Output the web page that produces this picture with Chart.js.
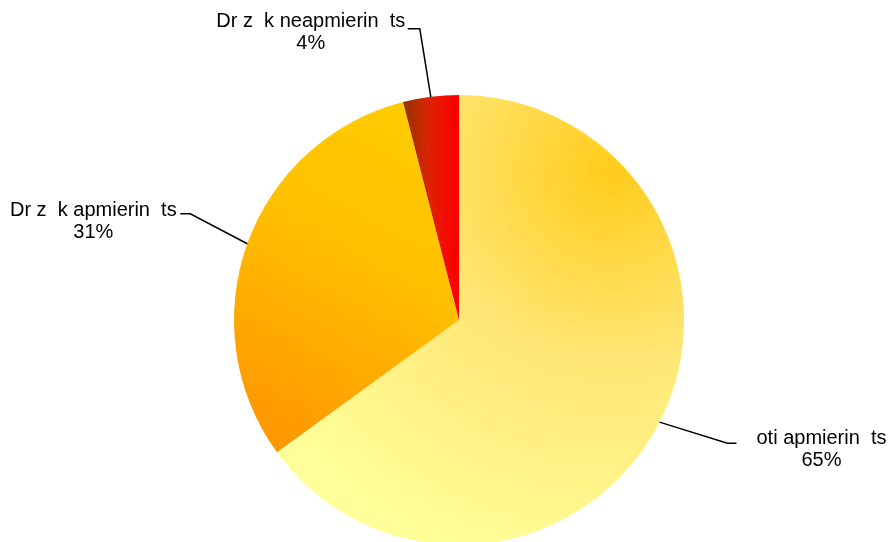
<!DOCTYPE html>
<html lang="lv">
<head>
    <meta charset="UTF-8">
    <title>Apmierinātība</title>
    <script src="https://cdn.jsdelivr.net/npm/chart.js"></script>
    <style>
        html, body { margin: 0; padding: 0; background: #fff; overflow: hidden; }
        .wrap { position: relative; width: 889px; height: 545px; }
    </style>
</head>
<body>
    <div class="wrap">
        <canvas id="pieChart"></canvas>
    </div>

    <script>
        // dati
        const categories = ['oti apmierin  ts', 'Dr z  k apmierin  ts', 'Dr z  k neapmierin  ts'];
        const shares = [65, 31, 4];

        // gradient fills, built from the chart area once layout is known
        function sliceFill(ctx) {
            const chart = ctx.chart;
            const a = chart.chartArea;
            const fallback = ['#ffe066', '#ffb300', '#cc1100'][ctx.dataIndex];
            if (!a) return fallback;
            const c = chart.ctx;
            const cx = (a.left + a.right) / 2;
            const cy = (a.top + a.bottom) / 2;
            const r = Math.min(a.right - a.left, a.bottom - a.top) / 2;
            let g;
            if (ctx.dataIndex === 0) {
                g = c.createRadialGradient(cx + r * 0.68, cy - r * 0.66, 0, cx + r * 0.68, cy - r * 0.66, r * 1.85);
                g.addColorStop(0, '#ffcc1a');
                g.addColorStop(0.45, '#ffe674');
                g.addColorStop(1, '#ffff99');
            } else if (ctx.dataIndex === 1) {
                g = c.createLinearGradient(cx - r * 0.1, cy - r * 0.9, cx - r * 0.85, cy + r * 0.45);
                g.addColorStop(0, '#ffcc00');
                g.addColorStop(0.45, '#ffc000');
                g.addColorStop(1, '#ff9900');
            } else {
                g = c.createLinearGradient(cx - r * 0.24, 0, cx - r * 0.02, 0);
                g.addColorStop(0, '#993300');
                g.addColorStop(0.5, '#dd2200');
                g.addColorStop(1, '#ff0000');
            }
            return g;
        }

        // leader lines and two-line labels
        const leaderLabels = {
            id: 'leaderLabels',
            afterDatasetsDraw(chart, args, opts) {
                const c = chart.ctx;
                const meta = chart.getDatasetMeta(0);
                const total = shares.reduce((s, v) => s + v, 0);
                c.save();
                c.strokeStyle = '#000';
                c.lineWidth = 1.5;
                c.fillStyle = '#000';
                c.font = '20px "Liberation Sans", Arial, sans-serif';
                c.textAlign = 'center';
                c.textBaseline = 'middle';
                meta.data.forEach((arc, i) => {
                    const p = arc.getProps(['x', 'y', 'startAngle', 'endAngle', 'outerRadius'], true);
                    const mid = (p.startAngle + p.endAngle) / 2;
                    const sx = p.x + Math.cos(mid) * p.outerRadius;
                    const sy = p.y + Math.sin(mid) * p.outerRadius;
                    const o = opts.offsets[i];
                    c.beginPath();
                    c.moveTo(sx, sy);
                    c.lineTo(sx + o.ex, sy + o.ey);
                    c.lineTo(sx + o.hx, sy + o.ey);
                    c.stroke();
                    const pct = Math.round(shares[i] / total * 100) + '%';
                    c.fillText(categories[i], sx + o.tx, sy + o.ty);
                    c.fillText(pct, sx + o.tx, sy + o.ty + 22);
                });
                c.restore();
            }
        };

        const ctx = document.getElementById('pieChart').getContext('2d');
        new Chart(ctx, {
            type: 'pie',
            data: {
                labels: categories,
                datasets: [{
                    data: shares,
                    backgroundColor: sliceFill,
                    borderWidth: 0
                }]
            },
            options: {
                responsive: true,
                maintainAspectRatio: false,
                animation: false,
                events: [],
                layout: { padding: { top: 95, bottom: 0, left: 234, right: 205 } },
                plugins: {
                    legend: { display: false },
                    tooltip: { enabled: false },
                    leaderLabels: {
                        offsets: [
                            { ex: 68, ey: 21, hx: 77, tx: 162, ty: 16 },
                            { ex: -57, ey: -30, hx: -67, tx: -154, ty: -33 },
                            { ex: -11, ey: -68, hx: -23, tx: -120, ty: -75 }
                        ]
                    }
                }
            },
            plugins: [leaderLabels]
        });
    </script>
</body>
</html>
